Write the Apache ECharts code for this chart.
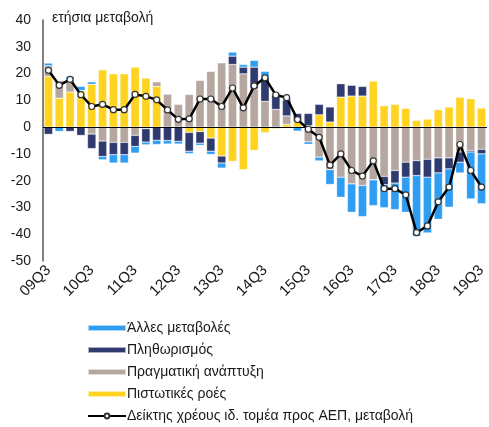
<!DOCTYPE html>
<html>
<head>
<meta charset="utf-8">
<script src="https://cdn.jsdelivr.net/npm/echarts@6/dist/echarts.min.js"></script>
<style>
  html, body { margin: 0; padding: 0; background: #fff; }
  #chart { width: 489px; height: 427px; }
</style>
</head>
<body>
<div id="chart"></div>
<script>
// τρίμηνα 09Q3 .. 19Q3
const quarters = []
for (let y = 9; y <= 19; y++) {
  for (let q = 1; q <= 4; q++) {
    if ((y === 9 && q < 3) || (y === 19 && q > 3)) continue
    quarters.push(String(y).padStart(2, '0') + 'Q' + q)
  }
}

// Πιστωτικές ροές
const creditFlows = [18.9, 10.8, 13.1, 13.7, 16.0, 21.4, 19.9, 19.9, 22.4, 18.3,
  15.2, 0, 0, -2.0, -1.7, -4.1, -10.8, -12.8, -15.9, -8.7,
  -2.1, -0.6, 1.0, 2.0, 0.5, 4.6, 1.9, 11.2, 11.6, 11.6,
  17.2, 8.0, 8.5, 7.0, 2.5, 3.0, 6.5, 7.5, 11.1, 10.6, 7.1]
// Πραγματική ανάπτυξη
const realGrowth = [4.0, 6.6, 4.6, 0, -2.6, -5.2, -5.7, -5.7, -3.1, -0.6,
  1.7, 12.3, 8.5, 12.2, 17.4, 20.8, 24.0, 23.4, 19.9, 14.3,
  9.6, 6.6, 3.2, 0, -5.5, -11.2, -15.9, -18.7, -21.2, -21.8,
  -19.7, -18.4, -16.2, -13.1, -12.5, -12.0, -11.5, -11.5, -9.3, -8.7, -8.3]
// Πληθωρισμός
const inflation = [-2.7, 0, -1.6, -3.1, -5.4, -5.8, -4.6, -4.6, -4.1, -5.0,
  -4.9, -5.0, -5.3, -7.0, -4.3, -4.9, -2.6, 3.1, 2.5, 8.1,
  9.1, 5.5, 5.9, 3.1, 4.6, 3.9, 5.6, 5.0, 4.0, 3.6,
  0, -3.1, -4.7, -5.6, -5.6, -6.7, -5.6, -4.1, -3.8, -0.6, -1.7]
// Άλλες μεταβολές
const otherChanges = [1.0, -1.6, 1.2, 1.5, 0.9, -1.2, -3.1, -3.1, -2.5, -1.0,
  -1.6, -1.3, -1.0, -0.9, -0.8, -1.2, -1.9, 1.5, 1.0, 2.5,
  2.1, 0.6, 0.7, -1.5, -0.9, -1.4, -5.5, -7.5, -10.6, -11.6,
  -9.6, -8.6, -9.9, -13.1, -22.7, -20.8, -17.3, -14.3, -4.0, -17.5, -18.6]
// Δείκτης χρέους ιδ. τομέα προς ΑΕΠ, μεταβολή
const debtRatio = [21.2, 15.6, 17.8, 12.1, 7.7, 8.5, 6.5, 6.5, 12.2, 11.5,
  10.2, 6.4, 2.9, 3.1, 10.5, 10.5, 7.7, 14.6, 7.2, 15.4,
  18.4, 12.0, 11.0, 2.8, -0.8, -3.8, -14.2, -10.0, -16.2, -18.3,
  -12.6, -23.0, -23.0, -25.3, -39.4, -36.9, -27.9, -22.4, -6.5, -16.2, -22.4]

const font = 'Liberation Sans, Arial, sans-serif'
const textColor = '#1a1a1a'

const chart = echarts.init(document.getElementById('chart'))

const bar = (name, data, color) => ({
  name: name,
  type: 'bar',
  stack: 'total',
  data: data,
  barCategoryGap: '22%',
  itemStyle: { color: color, borderColor: 'rgba(255,255,255,0.6)', borderWidth: 0.5 },
  emphasis: { disabled: true }
})

chart.setOption({
  animation: false,
  textStyle: { fontFamily: font },
  grid: { left: 43, right: 2, top: 20, bottom: 166 },
  graphic: [{
    type: 'text',
    left: 52,
    top: 11,
    style: { text: 'ετήσια μεταβολή', font: '14px ' + font, fill: textColor }
  }],
  legend: {
    orient: 'vertical',
    left: 87,
    top: 321,
    padding: 0,
    itemWidth: 38,
    itemHeight: 6,
    itemGap: 8,
    textStyle: { fontSize: 14, lineHeight: 14, color: textColor, fontFamily: font, padding: [0, 0, 0, -4] },
    data: [
      { name: 'Άλλες μεταβολές', icon: 'rect' },
      { name: 'Πληθωρισμός', icon: 'rect' },
      { name: 'Πραγματική ανάπτυξη', icon: 'rect' },
      { name: 'Πιστωτικές ροές', icon: 'rect' },
      { name: 'Δείκτης χρέους ιδ. τομέα προς ΑΕΠ, μεταβολή' }
    ]
  },
  xAxis: {
    type: 'category',
    data: quarters,
    axisLine: { show: false, onZero: false },
    axisTick: { show: false },
    axisLabel: {
      interval: 3,
      rotate: 45,
      fontSize: 15,
      color: textColor,
      margin: 7
    }
  },
  yAxis: {
    type: 'value',
    min: -50,
    max: 40,
    interval: 10,
    splitLine: { show: false },
    axisTick: { show: false },
    axisLine: { show: true, lineStyle: { color: '#595959', width: 1.5 } },
    axisLabel: { fontSize: 14, color: textColor, margin: 12 }
  },
  series: [
    bar('Πιστωτικές ροές', creditFlows, '#FFD320'),
    bar('Πραγματική ανάπτυξη', realGrowth, '#B5A79F'),
    bar('Πληθωρισμός', inflation, '#2F3A6F'),
    bar('Άλλες μεταβολές', otherChanges, '#2E9DF2'),
    {
      name: 'Δείκτης χρέους ιδ. τομέα προς ΑΕΠ, μεταβολή',
      type: 'line',
      data: debtRatio,
      symbol: 'circle',
      symbolSize: 6,
      lineStyle: { color: '#000', width: 2.5 },
      itemStyle: { color: '#fff', borderColor: '#333', borderWidth: 1.2 },
      z: 5,
      markLine: {
        silent: true,
        symbol: 'none',
        label: { show: false },
        lineStyle: { color: '#000', width: 1.2, type: 'solid' },
        data: [{ yAxis: 0 }]
      }
    }
  ]
})
</script>
</body>
</html>
